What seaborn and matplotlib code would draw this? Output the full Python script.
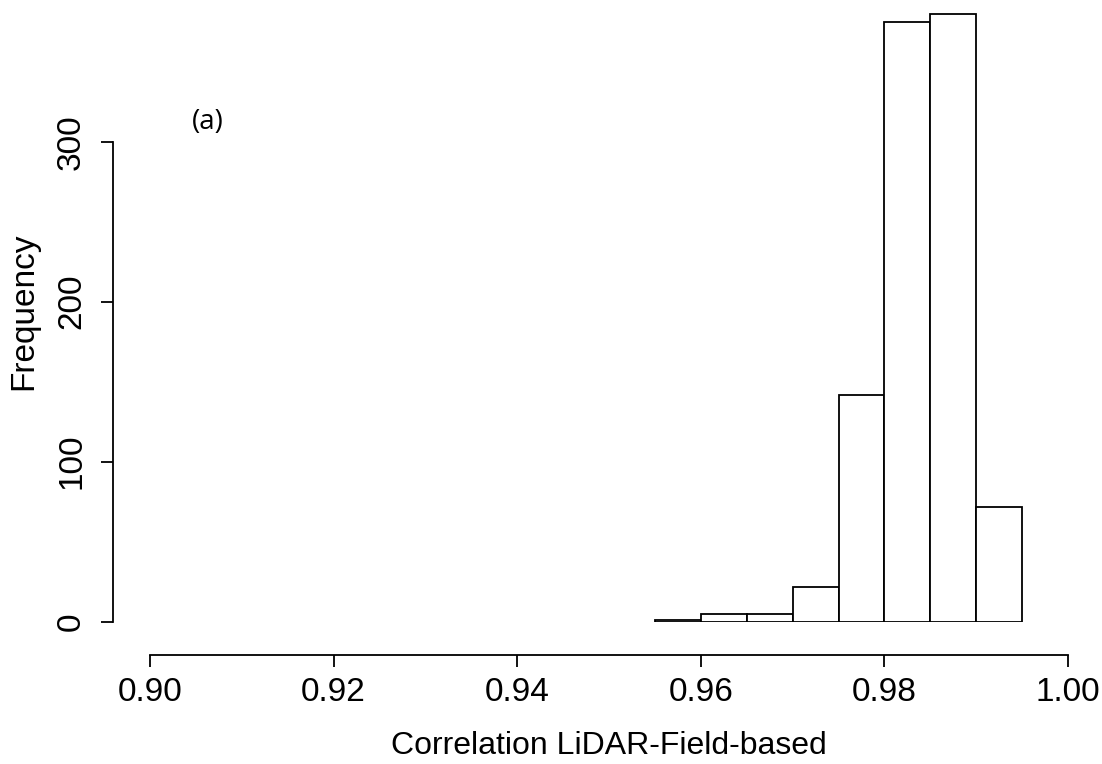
import numpy as np
import pandas as pd
import seaborn as sns
import matplotlib.pyplot as plt

# histogram: bin edges (width 0.005) and counts
bin_edges = [0.955, 0.960, 0.965, 0.970, 0.975, 0.980, 0.985, 0.990, 0.995]
counts = [1, 5, 5, 22, 142, 375, 380, 72]
x_ticks = [0.90, 0.92, 0.94, 0.96, 0.98, 1.00]
y_ticks = [0, 100, 200, 300]


def set_style():
    sns.set_style("white")
    plt.rcParams.update({
        'font.family': ['Liberation Sans', 'DejaVu Sans'],
        'font.size': 24,
        'axes.linewidth': 1.3,
        'text.color': 'black',
        'axes.labelcolor': 'black',
        'xtick.color': 'black',
        'ytick.color': 'black',
        'axes.edgecolor': 'black',
    })


def main():
    set_style()
    W, H = 1102, 764
    fig = plt.figure(figsize=(W / 100, H / 100), dpi=100)

    # axes box in pixels: x 0.90..1.00 -> 150..1068, y 0 -> 621.7, top -> 0.9
    left, right, bottom_px, top_px = 150, 1068, 621.7, 0.9
    ax = fig.add_axes([left / W, 1 - bottom_px / H, (right - left) / W, (bottom_px - top_px) / H])

    df = pd.DataFrame({
        'centre': [(a + b) / 2 for a, b in zip(bin_edges[:-1], bin_edges[1:])],
        'count': counts,
    })
    sns.histplot(data=df, x='centre', weights='count', bins=bin_edges,
                 color='white', edgecolor='black', linewidth=1.3, alpha=1.0, ax=ax)

    ax.set_xlim(0.90, 1.00)
    ax.set_ylim(0, (bottom_px - top_px) / 1.6)

    ax.spines['top'].set_visible(False)
    ax.spines['right'].set_visible(False)
    ax.spines['left'].set_position(('axes', -(150 - 113) / (right - left)))
    ax.spines['bottom'].set_position(('axes', -(655 - 621.7) / (bottom_px - top_px)))
    ax.spines['left'].set_bounds(0, 300)
    ax.spines['bottom'].set_bounds(0.90, 1.00)

    ax.set_xticks(x_ticks)
    ax.set_xticklabels([f"{t:.2f}" for t in x_ticks])
    ax.set_yticks(y_ticks)
    ax.set_yticklabels([str(t) for t in y_ticks], rotation=90, va='center')
    ax.tick_params(axis='both', which='major', direction='out', length=8.6, width=1.3,
                   bottom=True, left=True, labelsize=24, colors='black')
    ax.tick_params(axis='x', pad=7)
    ax.tick_params(axis='y', pad=10)

    ax.set_xlabel('Correlation LiDAR-Field-based', fontsize=23, labelpad=17, color='black')
    ax.set_ylabel('Frequency', fontsize=24, labelpad=12, color='black')

    fig.text(192 / W, 1 - 122 / H, '(a)', fontsize=20, family=['Open Sans', 'DejaVu Sans'],
             ha='left', va='center', color='black')

    fig.savefig('out.png', dpi=100)


if __name__ == "__main__":
    main()
